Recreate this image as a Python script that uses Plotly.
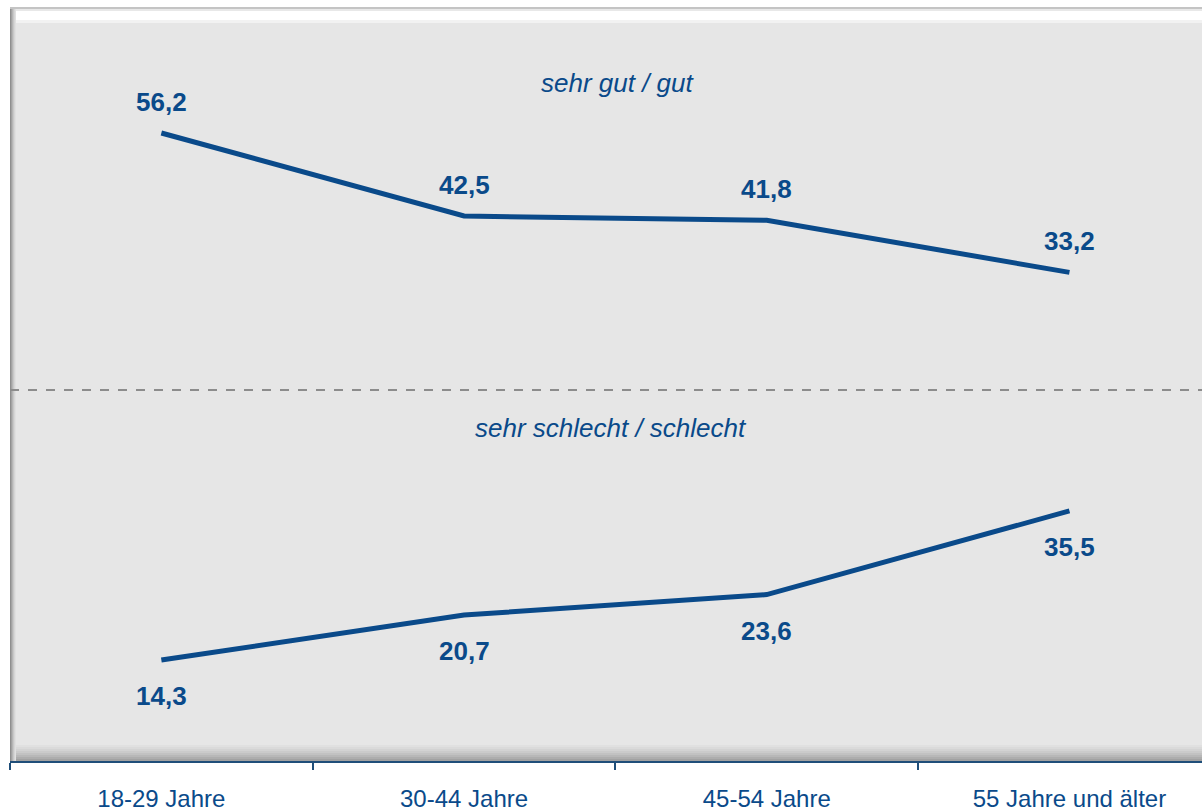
import plotly.graph_objects as go

# data
categories = ["18-29 Jahre", "30-44 Jahre", "45-54 Jahre", "55 Jahre und älter"]
gut = [56.2, 42.5, 41.8, 33.2]
schlecht = [14.3, 20.7, 23.6, 35.5]
label_gut = "sehr gut / gut"
label_schlecht = "sehr schlecht / schlecht"

BLUE = "#0a4a8a"
FONT = "Liberation Sans, Arial, sans-serif"

W, H = 1202, 812
L, T, B = 10, 7, 761  # plot area pixel edges
CAT_W = 302.7


def py(p):
    # pixel row -> paper y
    return (B - p) / (B - T)


def px(p):
    return (p - L) / (W - L)


fig = go.Figure()
fig.add_trace(go.Scatter(x=categories, y=gut, mode="lines",
                         line=dict(color=BLUE, width=5), yaxis="y",
                         hoverinfo="skip", showlegend=False))
fig.add_trace(go.Scatter(x=categories, y=schlecht, mode="lines",
                         line=dict(color=BLUE, width=5), yaxis="y2",
                         hoverinfo="skip", showlegend=False))

annotations = []
for c, v in zip(categories, gut):
    annotations.append(dict(x=c, y=v, xref="x", yref="y", text=f"{v:.1f}".replace(".", ","),
                            showarrow=False, yshift=31,
                            font=dict(family=FONT, size=26, color=BLUE, weight="bold")))
for c, v in zip(categories, schlecht):
    annotations.append(dict(x=c, y=v, xref="x", yref="y2", text=f"{v:.1f}".replace(".", ","),
                            showarrow=False, yshift=-36,
                            font=dict(family=FONT, size=26, color=BLUE, weight="bold")))
annotations.append(dict(x=px(618), y=py(66), xref="paper", yref="paper", text=label_gut,
                        showarrow=False, font=dict(family=FONT, size=26, color=BLUE, style="italic")))
annotations.append(dict(x=px(611), y=py(428), xref="paper", yref="paper", text=label_schlecht,
                        showarrow=False, font=dict(family=FONT, size=26, color=BLUE, style="italic")))

shapes = []


def strip(x0, x1, y0, y1, color):
    shapes.append(dict(type="rect", xref="paper", yref="paper", layer="below",
                       x0=px(x0), x1=px(x1), y0=py(y1), y1=py(y0),
                       fillcolor=color, line=dict(width=0)))


# bevel: top highlight
strip(10, W + 5, 7, 22, "#ffffff")
strip(10, W + 5, 7, 9, "#c4c4c4")
strip(10, W + 5, 9, 11, "#e8e8e8")
strip(16, W + 5, 20, 23, "#f2f2f2")
# bevel: bottom shadow
for i, col in enumerate(["#e0e0e0", "#dadada", "#d3d3d3", "#cbcbcb", "#c2c2c2",
                         "#b8b8b8", "#adadad", "#a2a2a2"]):
    strip(16, W + 5, 745 + 2 * i, 747 + 2 * i, col)
# bevel: left edge
for i, col in enumerate(["#8f8f8f", "#a3a3a3", "#b6b6b6", "#c8c8c8", "#d6d6d6", "#e0e0e0"]):
    strip(10 + i, 11 + i, 9, 761, col)

# separator
shapes.append(dict(type="line", xref="paper", yref="paper", x0=0, x1=1,
                   y0=py(390), y1=py(390), line=dict(color="#8c8c8c", width=2, dash="dash")))

fig.update_layout(
    width=W, height=H,
    margin=dict(l=L, r=0, t=T, b=H - B),
    paper_bgcolor="white",
    plot_bgcolor="#e6e6e6",
    font=dict(family=FONT, color=BLUE),
    xaxis=dict(type="category", range=[-0.5, -0.5 + (W - L) / CAT_W], tickson="boundaries",
               ticks="outside", ticklen=7, tickwidth=1.5, tickcolor="#1f4e79",
               showline=True, linecolor="#1f4e79", linewidth=2, showgrid=False,
               tickfont=dict(family=FONT, size=24, color=BLUE), ticklabelstandoff=15,
               zeroline=False, fixedrange=True),
    yaxis=dict(range=[-47.43, 76.99], visible=False, showgrid=False, fixedrange=True),
    yaxis2=dict(range=[-0.07, 107.19], visible=False, showgrid=False, overlaying="y",
                fixedrange=True),
    annotations=annotations,
    shapes=shapes,
    showlegend=False,
)

fig.write_html("out.html", config={"displayModeBar": False},
               post_script="document.body.style.margin='0';document.body.style.overflow='hidden';")
